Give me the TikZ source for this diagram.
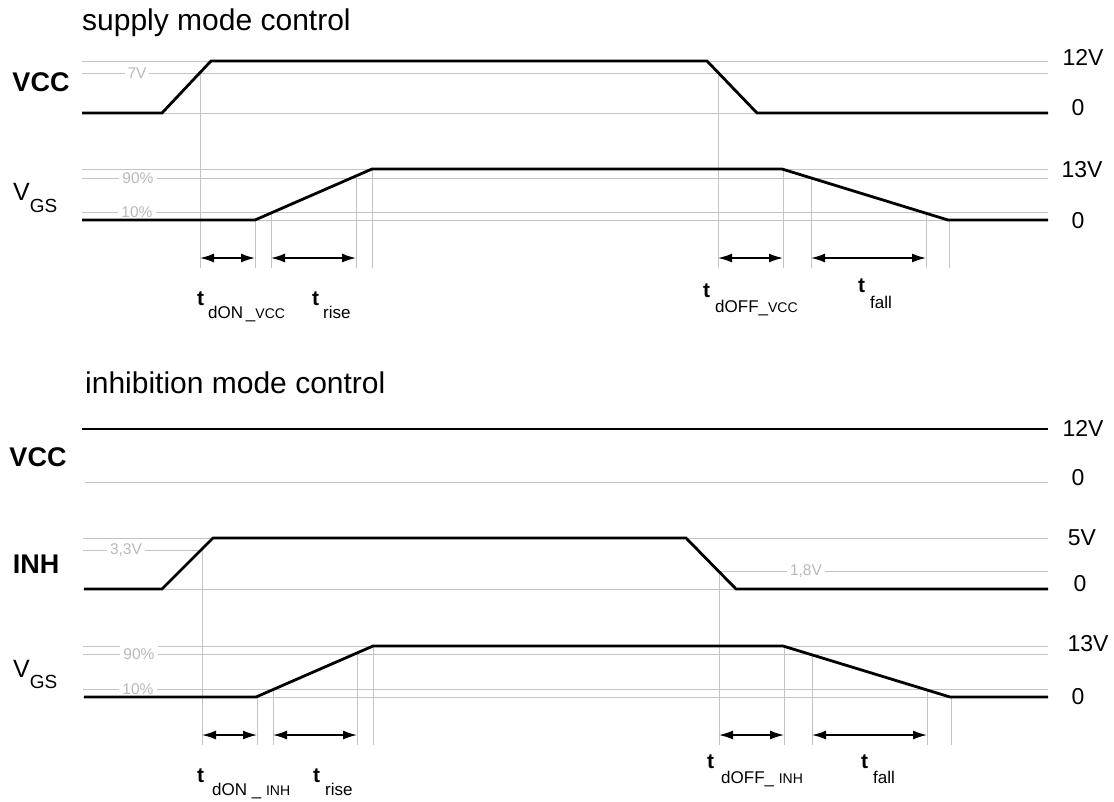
\documentclass[tikz,border=0pt]{standalone}
\usepackage{fontspec}
\setmainfont{Liberation Sans}
\usetikzlibrary{arrows.meta}
\definecolor{gridgrey}{RGB}{195,195,195}
\definecolor{lblgrey}{RGB}{185,185,185}

\begin{document}
\begin{tikzpicture}[x=1pt,y=-1pt,
  sig/.style={black,line width=2.8pt},
  ref/.style={gridgrey,line width=1pt},
  lvltxt/.style={fill=white,text=lblgrey,inner sep=3pt,font=\fontsize{15.5}{15.5}\selectfont},
  dim/.style={{Latex[length=14pt,width=9pt]}-{Latex[length=14pt,width=9pt]},line width=1.5pt},
  title/.style={anchor=base west,inner sep=0pt,font=\fontsize{30}{30}\selectfont},
  signame/.style={inner sep=0pt,font=\bfseries\fontsize{27}{27}\selectfont},
  volt/.style={inner sep=0pt,font=\fontsize{23}{23}\selectfont},
  vgsname/.style={anchor=base west,inner sep=0pt,font=\fontsize{25}{25}\selectfont},
  tsym/.style={anchor=base west,inner sep=0pt,font=\bfseries\fontsize{21}{21}\selectfont},
  tsub/.style={anchor=base west,inner sep=0pt,font=\fontsize{17}{17}\selectfont}]
\useasboundingbox (0,0) rectangle (1114,801);

% supply mode control
\node[title] (supply) at (82,30) {supply mode control};
\foreach \y in {61,73,113,169,178,212,220}
  \draw[ref] (82,\y) -- (1048,\y);
\foreach \x/\y in {200/73,255/220,271/212,356/178,372/169,718/73,783/169,811/178,926/212,949/220}
  \draw[ref] (\x,\y) -- (\x,268);
\node[lvltxt] (l7v) at (137,73) {7V};
\node[lvltxt] (l90a) at (138,178) {90\%};
\node[lvltxt] (l10a) at (137,212) {10\%};
\draw[sig] (82,113) -- (162,113) -- (211,61) -- (707,61) -- (757,113) -- (1048,113);
\draw[sig] (82,220) -- (255,220) -- (372,169) -- (782,169) -- (948,220) -- (1048,220);
\draw[dim] (200,258) -- (255,258);
\draw[dim] (271,258) -- (356,258);
\draw[dim] (718,258) -- (783,258);
\draw[dim] (811,258) -- (926,258);
\node[signame] (vcca) at (41,82) {VCC};
\node[vgsname] (vgsa) at (13,200) {V{\fontsize{19}{19}\selectfont\raisebox{-12pt}{GS}}};
\node[volt] (v12a) at (1083,57) {12V};
\node[volt] (zeroa) at (1078,108) {0};
\node[volt] (v13a) at (1082,170) {13V};
\node[volt] (zerob) at (1078,221) {0};
\node[tsym] (tdona) at (197,305) {t};
\node[tsub] (tdonas) at (208,318) {dON\,\_{\fontsize{14}{14}\selectfont VCC}};
\node[tsym] (trisea) at (312,305) {t};
\node[tsub] (trisease) at (323,318) {rise};
\node[tsym] (toffa) at (703,297) {t};
\node[tsub] (toffas) at (715,312) {dOFF\_{\fontsize{14}{14}\selectfont VCC}};
\node[tsym] (tfalla) at (858,292) {t};
\node[tsub] (tfallas) at (870,308) {fall};

% inhibition mode control
\node[title] (inhib) at (85,393) {inhibition mode control};
\draw[ref] (85,482) -- (1048,482);
\foreach \y in {538,589,646,654,689,697}
  \draw[ref] (83,\y) -- (1048,\y);
\draw[ref] (83,550) -- (202,550);
\draw[ref] (718,571) -- (1048,571);
\foreach \x/\y in {202/550,257/697,273/689,357/654,373/646,719/571,784/646,812/654,927/689,951/697}
  \draw[ref] (\x,\y) -- (\x,745);
\node[lvltxt] (l33) at (126,550) {3,3V};
\node[lvltxt] (l18) at (806,571) {1,8V};
\node[lvltxt] (l90b) at (139,654) {90\%};
\node[lvltxt] (l10b) at (138,689) {10\%};
\draw[sig] (82,429) -- (1048,429);
\draw[sig] (84,589) -- (162,589) -- (213,538) -- (686,538) -- (736,589) -- (1048,589);
\draw[sig] (84,697) -- (256,697) -- (373,646) -- (783,646) -- (950,697) -- (1048,697);
\draw[dim] (202,735) -- (257,735);
\draw[dim] (273,735) -- (357,735);
\draw[dim] (719,735) -- (784,735);
\draw[dim] (812,735) -- (927,735);
\node[signame] (vccb) at (38,457) {VCC};
\node[signame] (inh) at (36,564) {INH};
\node[vgsname] (vgsb) at (13,677) {V{\fontsize{19}{19}\selectfont\raisebox{-11pt}{GS}}};
\node[volt] (v12b) at (1083,428) {12V};
\node[volt] (zeroc) at (1078,478) {0};
\node[volt] (v5) at (1082,538) {5V};
\node[volt] (zerod) at (1080,584) {0};
\node[volt] (v13b) at (1088,644) {13V};
\node[volt] (zeroe) at (1078,697) {0};
\node[tsym] (tdonb) at (197,782) {t};
\node[tsub] (tdonbs) at (212,795) {dON \_ {\fontsize{14}{14}\selectfont INH}};
\node[tsym] (triseb) at (313,782) {t};
\node[tsub] (trisebs) at (325,795) {rise};
\node[tsym] (toffb) at (707,768) {t};
\node[tsub] (toffbs) at (721,783) {dOFF\_ {\fontsize{14}{14}\selectfont INH}};
\node[tsym] (tfallb) at (861,768) {t};
\node[tsub] (tfallbs) at (873,783) {fall};
\end{tikzpicture}
\end{document}
